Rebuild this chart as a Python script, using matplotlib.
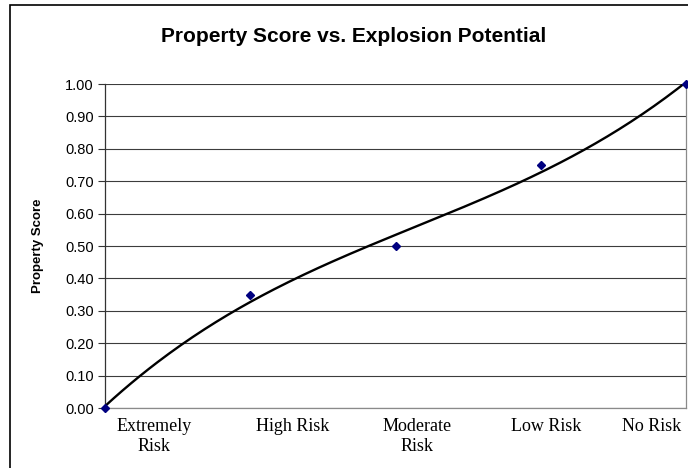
import matplotlib.pyplot as plt
import numpy as np
from matplotlib.patches import Rectangle

categories = ["Extremely\nRisk", "High Risk", "Moderate\nRisk", "Low Risk", "No Risk"]
risk_level = [0, 1, 2, 3, 4]
property_score = [0.00, 0.35, 0.50, 0.75, 1.00]

# label anchors along the category axis (text boxes sit a bit off the points)
label_pos = [0.34, 1.29, 2.15, 3.04, 3.76]

fig = plt.figure(figsize=(6.88, 4.68), dpi=100)
ax = fig.add_axes([105 / 688, 1 - 408 / 468, 581 / 688, 324 / 468])

# outer chart border (only top/left edges fall inside the image)
fig.patches.append(Rectangle((10 / 688, -0.1), 1.2, 1 - 5 / 468 + 0.1,
                             transform=fig.transFigure, fill=False,
                             edgecolor="black", linewidth=1.2))

# 3rd order polynomial trend line
coef = np.polyfit(risk_level, property_score, 3)
xs = np.linspace(risk_level[0], risk_level[-1], 200)
ax.plot(xs, np.polyval(coef, xs), color="black", linewidth=1.7, zorder=3)

ax.plot(risk_level, property_score, linestyle="none", marker="D",
        markersize=4.5, color="#000080", zorder=4, clip_on=False)

ax.set_xlim(0, 4)
ax.set_ylim(0, 1)
ax.set_yticks(np.arange(0, 1.01, 0.1))
ax.set_yticklabels([f"{v:.2f}" for v in np.arange(0, 1.01, 0.1)],
                   fontname="Liberation Sans", fontsize=10.5)
ax.tick_params(axis="y", direction="out", length=5, width=0.8, color="#333333", pad=3)
ax.set_xticks([])
ax.grid(axis="y", color="#3c3c3c", linewidth=0.8)
ax.set_axisbelow(True)

ax.spines["top"].set_visible(False)
ax.spines["left"].set_color("#333333")
ax.spines["bottom"].set_color("#8a8a8a")
ax.spines["right"].set_color("#8a8a8a")
for s in ax.spines.values():
    s.set_linewidth(0.9)

for xp, lab in zip(label_pos, categories):
    ax.text(xp, -0.03, lab, transform=ax.get_xaxis_transform(), ha="center",
            va="top", fontname="Liberation Serif", fontsize=13, linespacing=1.25)

ax.set_ylabel("Property Score", fontname="Liberation Sans", fontweight="bold",
              fontsize=9.5)
ax.yaxis.set_label_coords(-61 / 581, 0.5)

fig.text(354 / 688, 1 - 42 / 468, "Property Score vs. Explosion Potential",
         ha="center", va="baseline", fontname="Liberation Sans",
         fontweight="bold", fontsize=15)

fig.savefig("out.png", dpi=100)
